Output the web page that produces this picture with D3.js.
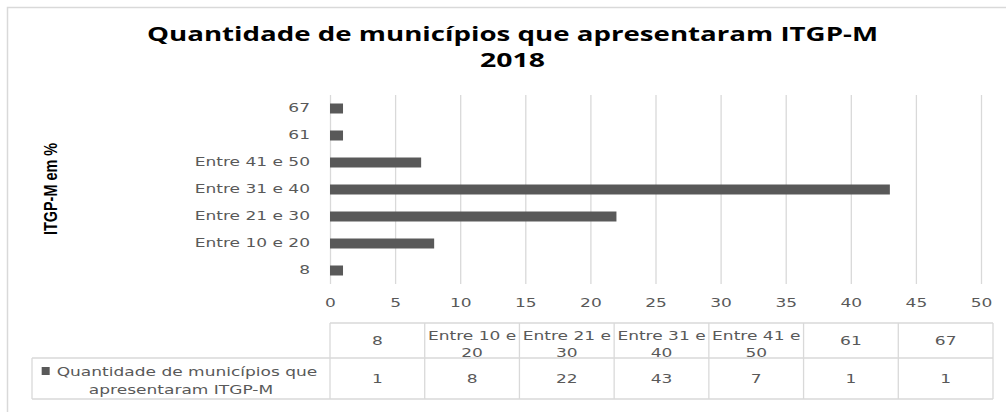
<!DOCTYPE html>
<html>
<head>
<meta charset="utf-8">
<script src="https://cdn.jsdelivr.net/npm/d3@7"></script>
<style>
  body { margin: 0; background: #fff; }
  text { font-family: "DejaVu Sans", Verdana, sans-serif; }
</style>
</head>
<body>
<script>
'use strict';

// chart data
const categories = ["8", "Entre 10 e 20", "Entre 21 e 30", "Entre 31 e 40", "Entre 41 e 50", "61", "67"];
const values = [1, 8, 22, 43, 7, 1, 1];
const xTicks = [0, 5, 10, 15, 20, 25, 30, 35, 40, 45, 50];
const titleLines = ["Quantidade de municípios que apresentaram ITGP-M", "2018"];
const legendLines = ["Quantidade de municípios que", "apresentaram ITGP-M"];
const yTitle = "ITGP-M em %";

(function() {
  const W = 1006, H = 412;
  const sx = 1.42; // the reference text is drawn wide
  const grey = "#595959";
  const lineGrey = "#d9d9d9";

  let svg = d3.select('body').append('svg')
    .attr('width', W)
    .attr('height', H);

  // outer frame
  svg.append('rect')
    .attr('x', 7.5).attr('y', 7.5)
    .attr('width', W + 10).attr('height', H + 10)
    .attr('fill', 'none')
    .attr('stroke', lineGrey)
    .attr('stroke-width', 1.5);

  // title
  let titleWidths = [731, 65];
  titleLines.forEach((t, i) => {
    svg.append('text')
      .attr('x', 512.5)
      .attr('y', 41 + i * 26)
      .attr('text-anchor', 'middle')
      .attr('textLength', titleWidths[i])
      .attr('lengthAdjust', 'spacingAndGlyphs')
      .style('font-family', '"Open Sans", sans-serif')
      .style('font-weight', 'bold')
      .style('font-size', '19px')
      .attr('fill', '#000')
      .text(t);
  });

  // scales
  let x = d3.scaleLinear().domain([0, 50]).range([330, 981]);
  let y = d3.scaleBand()
    .domain(categories.slice().reverse())
    .range([95, 284])
    .paddingInner(0.63)
    .paddingOuter(0.315);

  // gridlines
  svg.append('g')
    .attr('transform', 'translate(0,284)')
    .call(d3.axisBottom(x).tickValues(xTicks).tickSize(-189).tickFormat(''))
    .call(g => g.select('.domain').remove())
    .call(g => g.selectAll('line').attr('stroke', lineGrey).attr('stroke-width', 1.3));

  // x tick labels
  svg.append('g')
    .attr('transform', 'translate(0,284)')
    .call(d3.axisBottom(x).tickValues(xTicks).tickSize(0).tickPadding(14.5))
    .call(g => g.select('.domain').remove())
    .call(g => g.selectAll('text')
      .attr('transform', 'scale(' + sx + ',1)')
      .attr('fill', grey)
      .style('font-size', '12px')
      .style('font-family', '"DejaVu Sans", sans-serif'));

  // bars
  svg.selectAll('.bar')
    .data(values)
    .enter()
    .append('rect')
      .attr('class', 'bar')
      .attr('x', x(0))
      .attr('y', (d, i) => y(categories[i]))
      .attr('width', d => x(d) - x(0))
      .attr('height', y.bandwidth())
      .attr('fill', grey);

  // y labels
  svg.append('g')
    .attr('transform', 'translate(' + x(0) + ',0)')
    .call(d3.axisLeft(y).tickSize(0).tickPadding(20 / sx))
    .call(g => g.select('.domain').remove())
    .call(g => g.selectAll('text')
      .attr('transform', 'scale(' + sx + ',1)')
      .attr('fill', grey)
      .style('font-size', '12px')
      .style('font-family', '"DejaVu Sans", sans-serif'));

  // y axis title (narrow bold, taller than wide)
  svg.append('text')
    .attr('transform', 'translate(57,189)rotate(-90)')
    .attr('text-anchor', 'middle')
    .attr('textLength', 92)
    .attr('lengthAdjust', 'spacingAndGlyphs')
    .style('font-family', '"Liberation Sans", Arial, sans-serif')
    .style('font-weight', 'bold')
    .style('font-size', '19px')
    .attr('fill', '#000')
    .text(yTitle);

  // data table
  let tLeft = 32, tRight = 993, colStart = 330;
  let rowTop = 323, rowMid = 358, rowBot = 399;
  let col = d3.scaleBand().domain(categories).range([colStart, tRight]);

  let tg = svg.append('g').attr('stroke', lineGrey).attr('stroke-width', 1.3);
  tg.append('line').attr('x1', colStart).attr('x2', tRight).attr('y1', rowTop).attr('y2', rowTop);
  tg.append('line').attr('x1', tLeft).attr('x2', tRight).attr('y1', rowMid).attr('y2', rowMid);
  tg.append('line').attr('x1', tLeft).attr('x2', tRight).attr('y1', rowBot).attr('y2', rowBot);
  tg.append('line').attr('x1', tLeft).attr('x2', tLeft).attr('y1', rowMid).attr('y2', rowBot);
  categories.forEach(c => {
    tg.append('line').attr('x1', col(c)).attr('x2', col(c)).attr('y1', rowTop).attr('y2', rowBot);
  });
  tg.append('line').attr('x1', tRight).attr('x2', tRight).attr('y1', rowTop).attr('y2', rowBot);

  function stretchedText(px, py, str) {
    return svg.append('text')
      .attr('transform', 'translate(' + px + ',' + py + ')scale(' + sx + ',1)')
      .attr('text-anchor', 'middle')
      .attr('fill', grey)
      .style('font-size', '12px')
      .text(str);
  }

  // header cells, long ones wrapped on two lines
  categories.forEach(c => {
    let cx = col(c) + col.bandwidth() / 2;
    if (c.length > 4) {
      let cut = c.lastIndexOf(' ');
      stretchedText(cx, 339.5, c.slice(0, cut));
      stretchedText(cx, 356.5, c.slice(cut + 1));
    } else {
      stretchedText(cx, 345, c);
    }
  });

  // value cells
  values.forEach((v, i) => {
    stretchedText(col(categories[i]) + col.bandwidth() / 2, 383, v);
  });

  // legend cell
  let legCx = (tLeft + colStart) / 2;
  let l1 = stretchedText(legCx + 6, 375.5, legendLines[0]);
  stretchedText(legCx, 393.5, legendLines[1]);
  let bb = l1.node().getBBox();
  svg.append('rect')
    .attr('x', legCx + 6 - bb.width * sx / 2 - 15)
    .attr('y', 367)
    .attr('width', 8).attr('height', 8)
    .attr('fill', grey);
})();
</script>
</body>
</html>
